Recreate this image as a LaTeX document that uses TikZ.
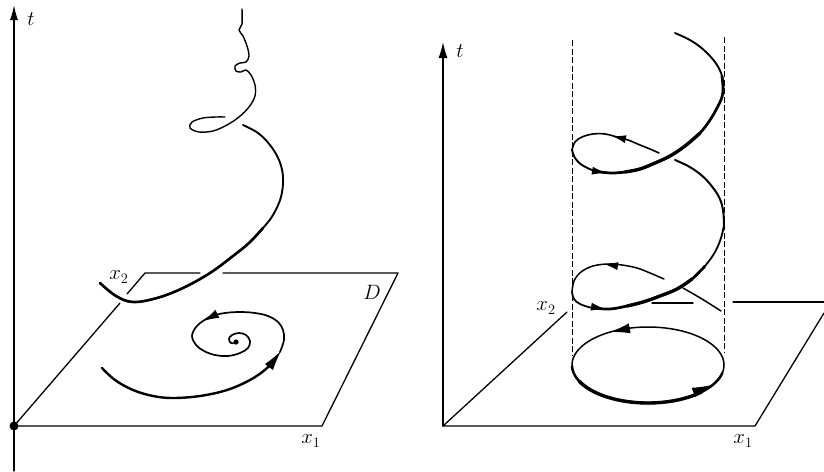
\documentclass[tikz,border=0pt]{standalone}
\usetikzlibrary{arrows.meta}
\begin{document}
\begin{tikzpicture}[x=1pt,y=-1pt,
  edge/.style={line width=1.3pt, line cap=round, line join=round},
  crv/.style={line cap=round, line join=round},
  lbl/.style={font=\huge, inner sep=0pt},
  harrow/.style args={#1/#2}{-{Latex[length=#1pt,width=#2pt]}, line width=1pt},
  cyl/.style={line width=0.9pt, dash pattern=on 6pt off 2.5pt}]
\fill[white] (0,0) rectangle (824,471);
\useasboundingbox (0,0) rectangle (824,471);

% ---------------- left panel ----------------
\coordinate (O1) at (14,426);
\coordinate (T1) at (14,5);
\coordinate (B1) at (14,471);
\coordinate (X1) at (322,426);
\coordinate (C1) at (398,273);
\coordinate (P1) at (145,273);
\draw[edge, -{Latex[length=15pt,width=8pt]}] (B1) -- (T1);
\draw[edge] (O1) -- (X1) -- (C1) -- (223,273);
\draw[edge] (200,273) -- (P1) -- (127,294);
\draw[edge] (120,303) -- (O1);
\fill (O1) circle[radius=4.5];

\node[lbl] (lt1) at (31,19) {$t$};
\node[lbl] (lx21) at (119,277) {$x_2$};
\node[lbl] (lD) at (372,292) {$D$};
\node[lbl] (lx11) at (311,441) {$x_1$};

% upper thin wiggly trajectory
\draw[crv, line width=1.4pt] plot[smooth, tension=0.55] coordinates {
 (242,9) (242,24) (239,30) (243,36) (247,46) (249,56) (246,62) (240,63)
 (235,66) (236,71) (241,72) (246,70) (251,75) (255,85) (255,96) (249,107) (239,117)
 (227,125) (213,131) (199,132) (190,128) (192,122) (203,118) (216,117) (225,117)};
% big arc
\draw[crv, line width=1.9pt] plot[smooth, tension=0.6] coordinates {
 (243,125) (258,133) (270,145) (279,160) (283,177) (281,197) (273,215) (263,228)
 (249,243) (233,256) (210,273) (183,288) (157,298) (133,302) (116,296) (100,283)};
\draw[crv, line width=2.6pt] plot[smooth, tension=0.6] coordinates {
 (263,228) (249,243) (233,256) (210,273) (183,288) (157,298) (133,302) (116,296) (100,283)};

% spiral in the plane
\draw[crv, line width=2.4pt] plot[smooth, tension=0.6] coordinates {
 (102,368) (115,380) (133,390) (153,396) (173,398) (200,396) (227,390) (250,380) (266,369) (276,358)};
\draw[harrow=20/10] (272,363) -- (281,351);
\draw[crv, line width=1.7pt] plot[smooth, tension=0.6] coordinates {
 (280,352) (284,340) (283,330) (278,322) (268,316) (255,313) (240,312) (225,313) (212,316)
 (203,321) (196,327) (192,336) (196,345) (204,351) (215,355) (228,356) (240,353) (248,348)
 (250,341) (246,335) (239,333) (232,335) (229,339) (231,343) (236,343)};
\draw[harrow=16/9] (215,315) -- (203,321);
\fill (236,342) circle[radius=2.6];

% ---------------- right panel ----------------
\coordinate (O2) at (443,426);
\coordinate (T2) at (443,42);
\coordinate (X2) at (755,426);
\coordinate (L2) at (567,312);
\coordinate (R2) at (824,313);
\draw[edge, -{Latex[length=16pt,width=9pt]}] (O2) -- (T2);
\draw[edge] (L2) -- (O2) -- (X2) -- (R2);
\draw[edge] (733,302) -- (824,302);
\draw[edge] (652,303) -- (693,303);

\node[lbl] (lt2) at (460,51) {$t$};
\node[lbl] (lx22) at (546,308) {$x_2$};
\node[lbl] (lx12) at (743,441) {$x_1$};

% cylinder
\draw[cyl] (572,40) -- (572,355);
\draw[cyl] (724,37) -- (724,353);

% closed orbit in the plane
\draw[crv, line width=1.5pt] plot[domain=0:360, samples=120] ({648+76*cos(\x)},{365+38*sin(\x)});
\draw[crv, line width=2.5pt] plot[domain=12:178, samples=80] ({648+76*cos(\x)},{365+38*sin(\x)});
\draw[crv, line width=3.4pt] plot[domain=45:155, samples=60] ({648+76*cos(\x)},{365+38*sin(\x)});
\draw[harrow=20/10] (697,391) -- (712,385);
\draw[harrow=20/10] (626,329) -- (610,332);

% helix
\draw[crv, line width=1.5pt] plot[smooth, tension=0.6] coordinates {(721,311) (702,299) (683,288)};
\draw[crv, line width=1.5pt] plot[smooth, tension=0.6] coordinates {
 (664,279) (650,273) (637,268) (622,265) (608,264) (593,266) (581,272) (574,281) (572,292)};
\draw[harrow=14/8] (617,266) -- (604,264);
\draw[crv, line width=1.8pt] plot[smooth, tension=0.6] coordinates {
 (572,292) (574,299) (580,304) (593,308) (610,309) (627,306) (643,302) (660,296) (677,289)
 (692,279) (705,266) (715,252) (721,238) (724,225)};
\draw[crv, line width=2.7pt] plot[smooth, tension=0.6] coordinates {
 (593,308) (610,309) (627,306) (643,302) (660,296) (677,289) (692,279) (705,266)};
\draw[crv, line width=3.3pt] plot[smooth, tension=0.6] coordinates {
 (627,306) (643,302) (660,296) (677,289) (692,279)};
\draw[harrow=14/8] (593,307) -- (605,309);
\draw[crv, line width=2pt] plot[smooth, tension=0.6] coordinates {
 (724,225) (723,210) (719,197) (710,184) (700,174) (688,166) (675,160)};
\draw[crv, line width=1.6pt] plot[smooth, tension=0.6] coordinates {
 (659,153) (650,149) (640,145) (628,140) (617,137) (605,134) (593,134) (582,137) (575,142) (572,150)};
\draw[harrow=14/8] (625,139) -- (612,136);
\draw[crv, line width=1.9pt] plot[smooth, tension=0.6] coordinates {
 (572,150) (575,158) (582,165) (595,171) (610,173) (625,172) (640,169) (655,163) (670,156)
 (685,146) (700,133) (710,120) (717,108) (722,97) (723,88) (722,76) (717,65) (709,55)
 (699,46) (688,39) (675,33)};
\draw[crv, line width=2.7pt] plot[smooth, tension=0.6] coordinates {
 (595,171) (610,173) (625,172) (640,169) (655,163) (670,156) (685,146) (700,133) (710,120)
 (717,108) (722,97) (723,88) (722,76)};
\draw[crv, line width=3.3pt] plot[smooth, tension=0.6] coordinates {
 (625,172) (640,169) (655,163) (670,156) (685,146) (700,133)};
\draw[harrow=14/8] (594,171) -- (606,173);
\end{tikzpicture}
\end{document}
